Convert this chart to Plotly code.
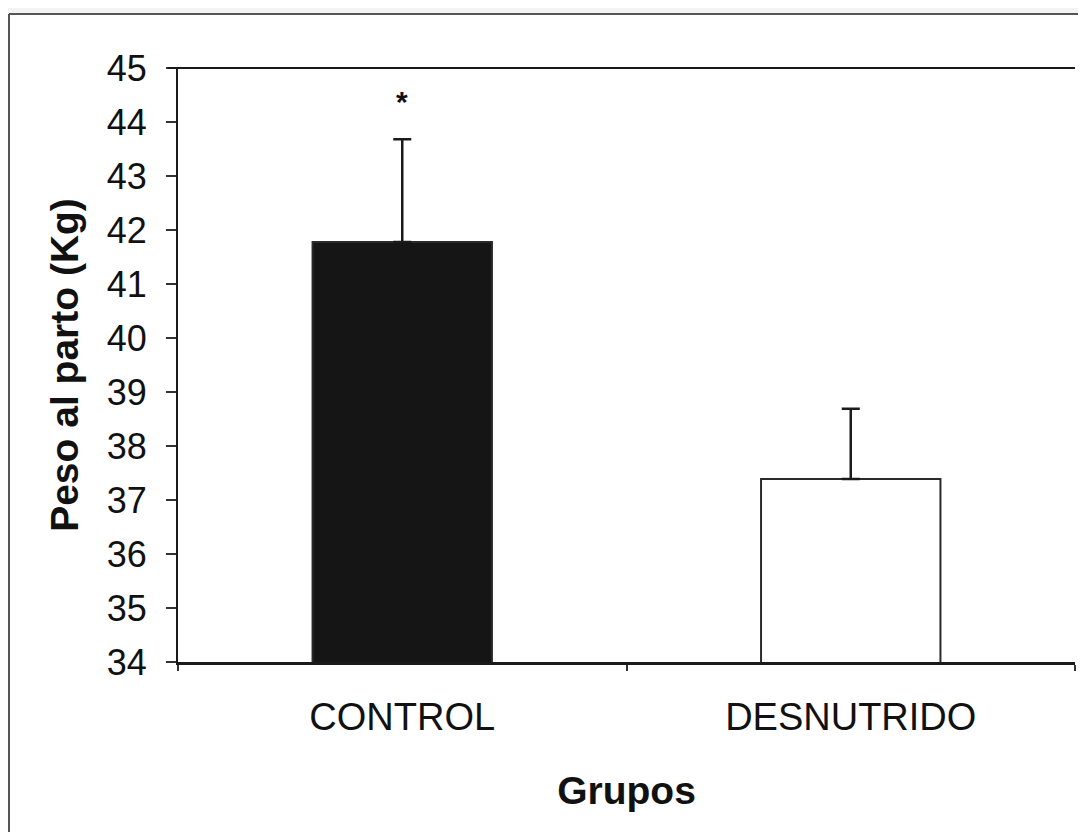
import plotly.graph_objects as go

categories = ["CONTROL", "DESNUTRIDO"]
values = [41.78, 37.39]
errors_up = [1.9, 1.3]
bar_colors = ["#151515", "#ffffff"]
y_ticks = [34, 35, 36, 37, 38, 39, 40, 41, 42, 43, 44, 45]
star_label = "<b>*</b>"
star_y = 44.38

FONT = "Liberation Sans, Arial, sans-serif"
OFF = 8  # page body margin offset
W, H = 1070, 824
L, T = 178 - OFF, 68 - OFF
R = W - (1075 - OFF)
B = H - (662 - OFF)
pw, ph = W - L - R, H - T - B

fig = go.Figure()
fig.add_trace(go.Bar(
    x=categories, y=values, width=0.40,
    marker=dict(color=bar_colors, line=dict(color="#2a2a2a", width=2)),
    error_y=dict(type="data", symmetric=False, array=errors_up,
                 arrayminus=[0, 0], color="#1a1a1a", thickness=2.5, width=9),
    showlegend=False,
))

fig.add_annotation(x=categories[0], y=star_y, text=star_label, showarrow=False,
                   font=dict(family=FONT, size=30, color="#111"))

def px_x(p):
    return (p - OFF - L) / pw

def px_y(p):
    return (H - B - (p - OFF)) / ph

shapes = [
    dict(type="line", xref="paper", yref="paper", x0=px_x(168), x1=1, y0=1, y1=1,
         line=dict(color="#1a1a1a", width=2)),
    dict(type="rect", xref="paper", yref="paper", x0=px_x(0), x1=px_x(1090), y0=px_y(8), y1=px_y(14),
         fillcolor="#f3f3f3", line=dict(width=0), layer="below"),
    dict(type="line", xref="paper", yref="paper", x0=px_x(9), x1=px_x(1090), y0=px_y(14), y1=px_y(14),
         line=dict(color="#555", width=2)),
    dict(type="line", xref="paper", yref="paper", x0=px_x(9), x1=px_x(9), y0=px_y(14), y1=px_y(840),
         line=dict(color="#555", width=2)),
]

fig.update_layout(
    width=W, height=H,
    margin=dict(l=L, r=R, t=T, b=B),
    paper_bgcolor="white", plot_bgcolor="white",
    font=dict(family=FONT, color="#111"),
    shapes=shapes,
    bargap=0.6,
    xaxis=dict(
        showgrid=False, showline=True, linecolor="#1a1a1a", linewidth=2.5,
        ticks="outside", ticklen=6, tickwidth=1.5, tickcolor="#333",
        tickson="boundaries",
        tickfont=dict(family=FONT, size=38, color="#111"),
        ticklabelstandoff=20,
        title=dict(text="<b>Grupos</b>", font=dict(family=FONT, size=39, color="#111"), standoff=40),
    ),
    yaxis=dict(
        range=[34, 45], tickvals=y_ticks, showgrid=False, zeroline=False,
        showline=True, linecolor="#1a1a1a", linewidth=2,
        ticks="outside", ticklen=10, tickwidth=1.5, tickcolor="#333",
        tickfont=dict(family=FONT, size=36, color="#111"),
        ticklabelstandoff=12,
        title=dict(text="<b>Peso al parto (Kg)</b>", font=dict(family=FONT, size=39, color="#111"), standoff=16),
    ),
)

fig.write_html("out.html")
